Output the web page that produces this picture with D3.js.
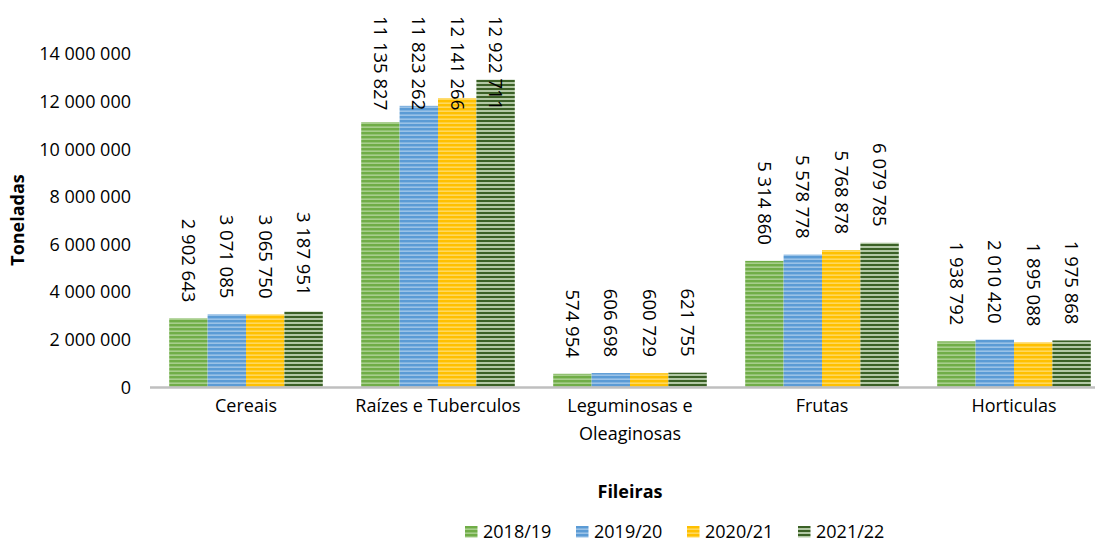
<!DOCTYPE html>
<html>
<head>
<meta charset="utf-8">
<script src="https://cdn.jsdelivr.net/npm/d3@7"></script>
<style>
  body { margin: 0; background: #fff; }
  svg { display: block; font-family: "Open Sans", sans-serif; }
</style>
</head>
<body>
<svg id="chart" width="1095" height="543"></svg>
<script>
// données
const categories = ["Cereais", "Raízes e Tuberculos", "Leguminosas e Oleaginosas", "Frutas", "Horticulas"];
const years = ["2018/19", "2019/20", "2020/21", "2021/22"];
const v2018 = [2902643, 11135827, 574954, 5314860, 1938792];
const v2019 = [3071085, 11823262, 606698, 5578778, 2010420];
const v2020 = [3065750, 12141266, 600729, 5768878, 1895088];
const v2021 = [3187951, 12922711, 621755, 6079785, 1975868];
const yTicks = [0, 2000000, 4000000, 6000000, 8000000, 10000000, 12000000, 14000000];

const seriesValues = [v2018, v2019, v2020, v2021];
const stripes = [
  {base: "#70AD47", light: "#B4D69C"},
  {base: "#5B9BD5", light: "#A9CCEC"},
  {base: "#FFC000", light: "#FFDE73"},
  {base: "#3B6126", light: "#CFE1C4"}
];

const locale = d3.formatLocale({decimal: ",", thousands: " ", grouping: [3], currency: ["", ""]});
const fmt = locale.format(",d");

const svg = d3.select("#chart");
const margin = {left: 150, right: -15, top: 54, bottom: 155.5};
const W = 1095, H = 543;

const x0 = d3.scaleBand()
  .domain(categories)
  .range([margin.left, W - margin.right])
  .paddingInner(0.2)
  .paddingOuter(0.1);

const x1 = d3.scaleBand()
  .domain(years)
  .range([0, x0.bandwidth()]);

const y = d3.scaleLinear()
  .domain([0, 14000000])
  .range([H - margin.bottom, margin.top]);

// motifs rayés
const defs = svg.append("defs");
stripes.forEach(function(s, i) {
  const p = defs.append("pattern")
    .attr("id", "stripe" + i)
    .attr("patternUnits", "userSpaceOnUse")
    .attr("width", 8).attr("height", 4);
  p.append("rect").attr("width", 8).attr("height", 4).attr("fill", s.base);
  p.append("rect").attr("y", i == 3 ? 2.2 : 2.5).attr("width", 8).attr("height", i == 3 ? 1.6 : 1.3).attr("fill", s.light);
});

// axe Y
const yAxis = d3.axisLeft(y)
  .tickValues(yTicks)
  .tickSize(0)
  .tickPadding(19)
  .tickFormat(fmt);

svg.append("g")
  .attr("transform", "translate(" + margin.left + ",0)")
  .call(yAxis)
  .call(g => g.select(".domain").remove())
  .selectAll("text")
  .attr("font-size", 18)
  .attr("font-family", "Open Sans")
  .attr("fill", "#000");

// barres
const groups = svg.append("g").selectAll("g")
  .data(categories)
  .join("g")
  .attr("transform", d => "translate(" + x0(d) + ",0)");

groups.selectAll("rect")
  .data((c, ci) => years.map((yr, si) => ({yr: yr, si: si, value: seriesValues[si][ci]})))
  .join("rect")
  .attr("x", d => x1(d.yr))
  .attr("width", x1.bandwidth())
  .attr("y", d => y(d.value))
  .attr("height", d => y(0) - y(d.value))
  .attr("fill", d => "url(#stripe" + d.si + ")");

// étiquettes
const plotTop = 16;
groups.selectAll("text.lbl")
  .data((c, ci) => years.map((yr, si) => ({yr: yr, si: si, value: seriesValues[si][ci]})))
  .join("text")
  .attr("class", "lbl")
  .attr("font-size", 18.5)
  .attr("fill", "#000")
  .attr("dy", "0.35em")
  .text(d => fmt(d.value))
  .each(function(d) {
    const len = this.getComputedTextLength();
    const cx = x1(d.yr) + x1.bandwidth() / 2;
    let end = y(d.value) - 16;
    let start = end - len;
    if (start < plotTop) start = plotTop;
    d3.select(this)
      .attr("text-anchor", "start")
      .attr("transform", "translate(" + cx + "," + start + ") rotate(90)");
  });

// axe X
const xAxis = d3.axisBottom(x0).tickSize(0).tickPadding(12);
const gx = svg.append("g")
  .attr("transform", "translate(0," + y(0) + ")")
  .call(xAxis);
gx.select(".domain")
  .attr("d", "M" + margin.left + ",0H" + W)
  .attr("stroke", "#BFBFBF")
  .attr("stroke-width", 2.5);
gx.selectAll("text")
  .attr("font-size", 18)
  .attr("font-family", "Open Sans")
  .attr("fill", "#000")
  .call(wrap, x0.step() - 12);

function wrap(texts, width) {
  texts.each(function() {
    const text = d3.select(this);
    const words = text.text().split(/\s+/);
    const yy = text.attr("y"), dy = parseFloat(text.attr("dy"));
    let line = [], lineNumber = 0;
    let tspan = text.text(null).append("tspan").attr("x", 0).attr("y", yy).attr("dy", dy + "em");
    words.forEach(function(w) {
      line.push(w);
      tspan.text(line.join(" "));
      if (tspan.node().getComputedTextLength() > width && line.length > 1) {
        line.pop();
        tspan.text(line.join(" "));
        line = [w];
        tspan = text.append("tspan").attr("x", 0).attr("y", yy)
          .attr("dy", (++lineNumber * 1.55 + dy) + "em").text(w);
      }
    });
  });
}

// titres d'axes
svg.append("text")
  .attr("transform", "translate(24,220) rotate(-90)")
  .attr("text-anchor", "middle")
  .attr("font-size", 18)
  .attr("font-weight", "bold")
  .text("Toneladas");

svg.append("text")
  .attr("x", 630)
  .attr("y", 498)
  .attr("text-anchor", "middle")
  .attr("font-size", 18)
  .attr("font-weight", "bold")
  .text("Fileiras");

// légende
const legend = svg.append("g").selectAll("g")
  .data(years)
  .join("g")
  .attr("transform", (d, i) => "translate(" + (465 + i * 111) + ",526)");
legend.append("rect")
  .attr("width", 12.5)
  .attr("height", 11.5)
  .attr("fill", (d, i) => "url(#stripe" + i + ")");
legend.append("text")
  .attr("x", 18)
  .attr("y", 12)
  .attr("font-size", 18)
  .text(d => d);
</script>
</body>
</html>
